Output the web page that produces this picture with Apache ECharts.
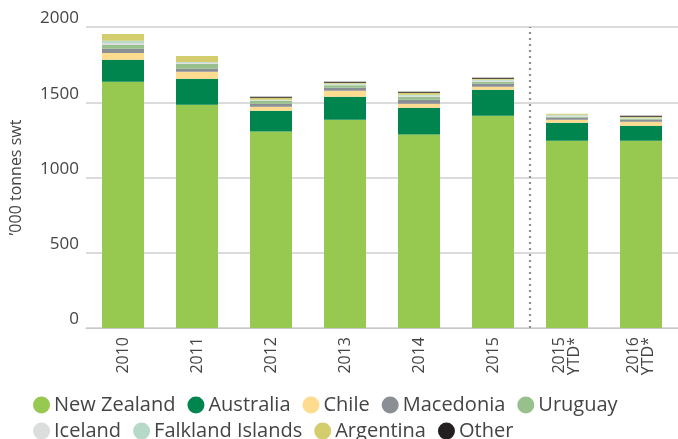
<!DOCTYPE html>
<html>
<head>
<meta charset="utf-8">
<script src="https://cdn.jsdelivr.net/npm/echarts@6/dist/echarts.min.js"></script>
<style>
  html, body { margin: 0; padding: 0; background: #fff; }
  #chart { width: 678px; height: 439px; }
</style>
</head>
<body>
<div id="chart"></div>
<script>
// Periods shown on the x axis
const categories = ['2010', '2011', '2012', '2013', '2014', '2015', '2015\nYTD*', '2016\nYTD*'];

// Supply by origin, '000 tonnes swt
const newZealand = [1636, 1484, 1305, 1384, 1285, 1411, 1245, 1245];
const australia = [146, 172, 139, 153, 179, 172, 119, 99];
const chile = [46, 46, 26, 39, 26, 20, 20, 27];
const macedonia = [27, 20, 20, 20, 27, 20, 13, 13];
const uruguay = [26, 33, 20, 17, 20, 13, 7, 7];
const iceland = [12, 7, 4, 5, 7, 7, 7, 3];
const falklandIslands = [16, 6, 3, 5, 6, 6, 6, 3];
const argentina = [45, 40, 13, 6, 13, 7, 7, 7];
const other = [0, 0, 7, 7, 7, 6, 0, 7];

// Y axis ticks
const yTicks = [0, 500, 1000, 1500, 2000];

// Full years vs year-to-date: the separator sits before this category
const ytdStart = 6;

const seriesDefs = [
  ['New Zealand', newZealand, '#97c950'],
  ['Australia', australia, '#00854f'],
  ['Chile', chile, '#fddb8f'],
  ['Macedonia', macedonia, '#8a8f96'],
  ['Uruguay', uruguay, '#98c08c'],
  ['Iceland', iceland, '#dcdddd'],
  ['Falkland Islands', falklandIslands, '#b7d9c7'],
  ['Argentina', argentina, '#d3cd6e'],
  ['Other', other, '#231f20']
];

const FONT = '"Open Sans", sans-serif';
const chart = echarts.init(document.getElementById('chart'), null, { renderer: 'canvas' });

const legendCommon = {
  icon: 'circle',
  itemWidth: 17,
  itemHeight: 17,
  itemGap: 12,
  orient: 'horizontal',
  textStyle: { fontFamily: FONT, fontSize: 20, color: '#444', padding: [0, 0, 0, -1] }
};

const barSeries = seriesDefs.map(([name, values, color]) => ({
  name,
  type: 'bar',
  stack: 'total',
  barWidth: 42,
  data: values,
  itemStyle: { color },
  emphasis: { disabled: true }
}));

// Dotted separator drawn on a hidden linear axis spanning the category bands
barSeries.push({
  type: 'line',
  xAxisIndex: 1,
  data: [[ytdStart, yTicks[0]], [ytdStart, yTicks[yTicks.length - 1]]],
  symbol: 'none',
  silent: true,
  z: 1,
  lineStyle: { color: '#8f8f8f', width: 2.2, type: [2, 4] }
});

chart.setOption({
  animation: false,
  textStyle: { fontFamily: FONT },
  grid: { left: 79, top: 27, width: 607, height: 301, containLabel: false },
  legend: [
    Object.assign({}, legendCommon, {
      left: 28, top: 390,
      data: seriesDefs.slice(0, 5).map(d => d[0])
    }),
    Object.assign({}, legendCommon, {
      left: 28, top: 416,
      data: seriesDefs.slice(5).map(d => d[0])
    })
  ],
  xAxis: [{
    type: 'category',
    data: categories,
    boundaryGap: true,
    axisLine: { show: true, lineStyle: { color: '#c8c8c8', width: 1 } },
    axisTick: { show: false },
    axisLabel: {
      rotate: 90,
      interval: 0,
      margin: 9,
      fontFamily: FONT,
      fontSize: 16,
      lineHeight: 15,
      color: '#444'
    }
  }, {
    type: 'value',
    min: 0,
    max: categories.length,
    show: false
  }],
  yAxis: {
    type: 'value',
    min: yTicks[0],
    max: yTicks[yTicks.length - 1],
    interval: 500,
    name: '\u2019000 tonnes swt',
    nameLocation: 'middle',
    nameGap: 62,
    nameRotate: 90,
    nameTextStyle: { fontFamily: FONT, fontSize: 16, color: '#444' },
    axisLine: { show: false },
    axisTick: { show: false },
    axisLabel: {
      fontFamily: FONT,
      fontSize: 17,
      color: '#444',
      margin: 7,
      verticalAlign: 'bottom',
      formatter: (v) => String(v)
    },
    splitLine: { show: true, lineStyle: { color: '#cfcfcf', width: 1.5 } }
  },
  series: barSeries
});
</script>
</body>
</html>
